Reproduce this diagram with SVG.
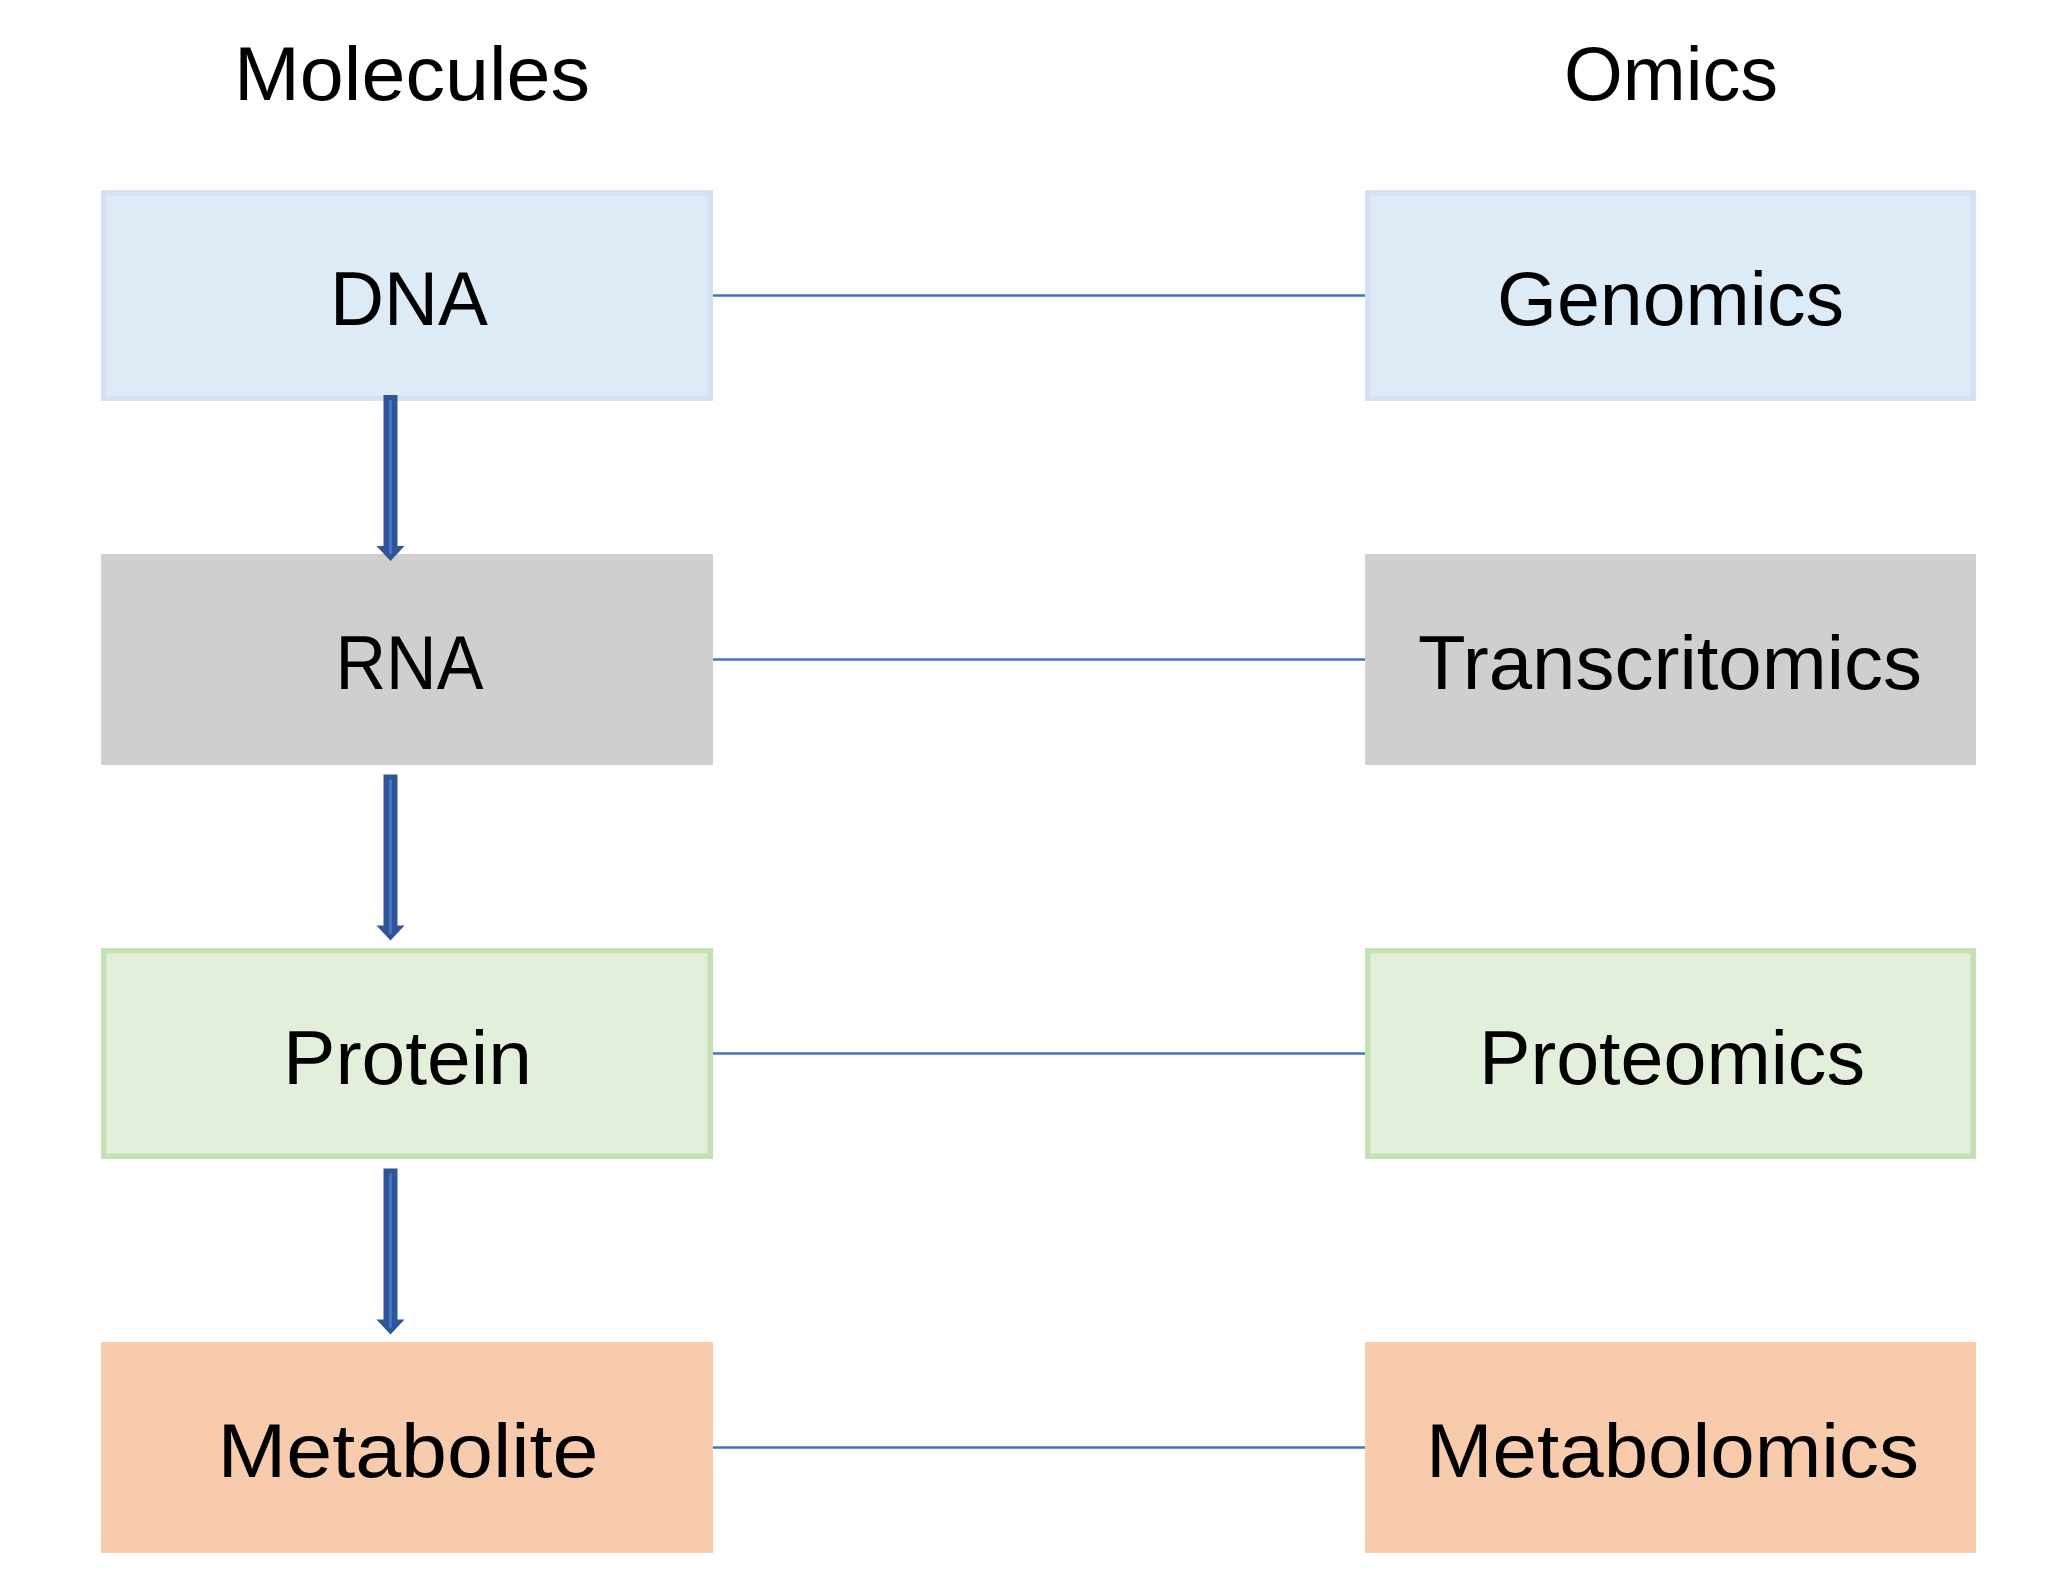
<svg xmlns="http://www.w3.org/2000/svg" xmlns:xlink="http://www.w3.org/1999/xlink" width="2058" height="1574" viewBox="0 0 2058 1574">
<style>
.lbl{font-family:"Liberation Sans",Arial,sans-serif;font-size:76px;fill:#000;text-anchor:middle}
.blue{fill:#DDEBF7;stroke:#D5E0F1;stroke-width:5.5}
.grey{fill:#D0CECE}
.green{fill:#E2EFDA;stroke:#C5E0B4;stroke-width:5.5}
.orange{fill:#F8CBAD}
.link{stroke:#4472C4;stroke-width:2.6;fill:none}
</style>
<defs>
<g id="downArrow">
<polygon points="-7,0 7,0 7,151 14,151 0,166 -14,151 -7,151" fill="#2F5597"/>
<line x1="0" y1="5" x2="0" y2="159" stroke="#4472C4" stroke-width="3"/>
</g>
</defs>
<rect width="2058" height="1574" fill="#FFFFFF"/>
<g id="headers">
<text class="lbl" x="412" y="100" textLength="356" lengthAdjust="spacingAndGlyphs">Molecules</text>
<text class="lbl" x="1671" y="100" textLength="214" lengthAdjust="spacingAndGlyphs">Omics</text>
</g>
<g id="connectors">
<line class="link" x1="710" y1="295.5" x2="1368" y2="295.5"/>
<line class="link" x1="710" y1="659.5" x2="1368" y2="659.5"/>
<line class="link" x1="710" y1="1053.5" x2="1368" y2="1053.5"/>
<line class="link" x1="710" y1="1447.5" x2="1368" y2="1447.5"/>
</g>
<g id="node-dna">
<rect class="blue" x="103.75" y="192.75" width="606.5" height="205.5"/>
<text class="lbl" x="409" y="325" textLength="158" lengthAdjust="spacingAndGlyphs">DNA</text>
</g>
<g id="node-rna">
<rect class="grey" x="101" y="554" width="612" height="211"/>
<text class="lbl" x="409.5" y="689" textLength="148" lengthAdjust="spacingAndGlyphs">RNA</text>
</g>
<g id="node-protein">
<rect class="green" x="103.75" y="950.75" width="606.5" height="205.5"/>
<text class="lbl" x="407.5" y="1084" textLength="249" lengthAdjust="spacingAndGlyphs">Protein</text>
</g>
<g id="node-metabolite">
<rect class="orange" x="101" y="1342" width="612" height="211"/>
<text class="lbl" x="408" y="1477" textLength="381" lengthAdjust="spacingAndGlyphs">Metabolite</text>
</g>
<g id="node-genomics">
<rect class="blue" x="1367.75" y="192.75" width="605.5" height="205.5"/>
<text class="lbl" x="1670.5" y="325" textLength="347" lengthAdjust="spacingAndGlyphs">Genomics</text>
</g>
<g id="node-transcritomics">
<rect class="grey" x="1365" y="554" width="611" height="211"/>
<text class="lbl" x="1670" y="689" textLength="504" lengthAdjust="spacingAndGlyphs">Transcritomics</text>
</g>
<g id="node-proteomics">
<rect class="green" x="1367.75" y="950.75" width="605.5" height="205.5"/>
<text class="lbl" x="1672" y="1084" textLength="386" lengthAdjust="spacingAndGlyphs">Proteomics</text>
</g>
<g id="node-metabolomics">
<rect class="orange" x="1365" y="1342" width="611" height="211"/>
<text class="lbl" x="1672.5" y="1477" textLength="493" lengthAdjust="spacingAndGlyphs">Metabolomics</text>
</g>
<g id="arrows">
<use xlink:href="#downArrow" x="390.5" y="395"/>
<use xlink:href="#downArrow" x="390.5" y="774.5"/>
<use xlink:href="#downArrow" x="390.5" y="1168.5"/>
</g>
</svg>
